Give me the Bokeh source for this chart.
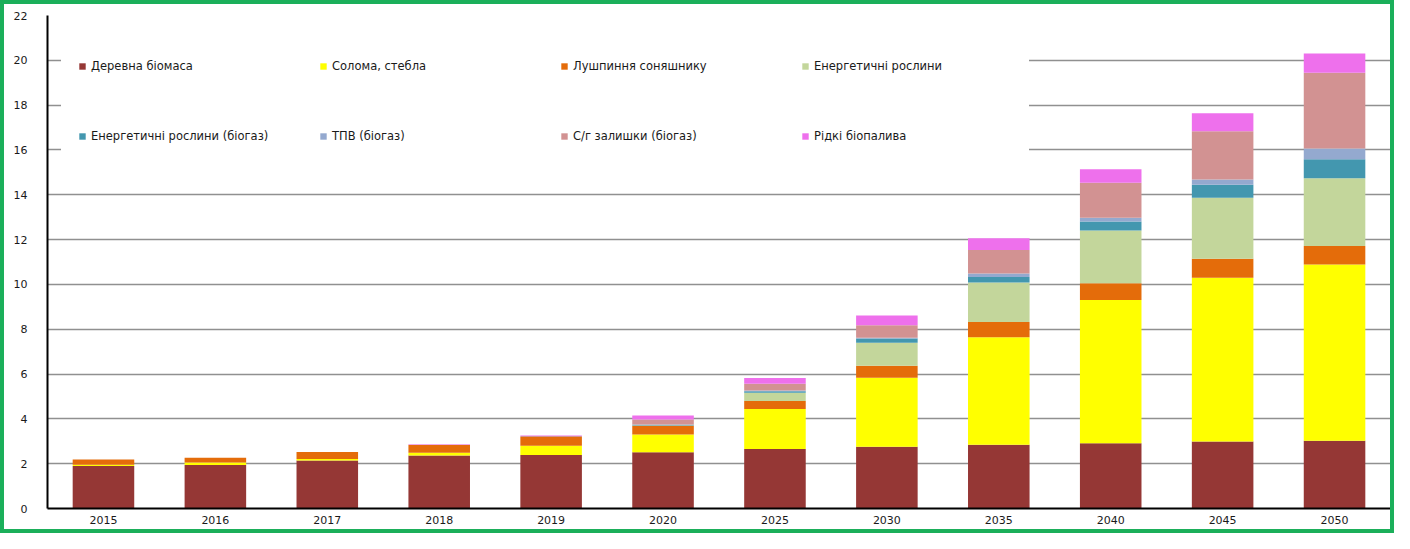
from bokeh.plotting import figure
from bokeh.models import Range1d, FactorRange, Legend, LegendItem
from bokeh.embed import file_html
from bokeh.resources import INLINE

years = ["2015", "2016", "2017", "2018", "2019", "2020", "2025", "2030", "2035", "2040", "2045", "2050"]

wood = [1.90, 1.94, 2.14, 2.36, 2.39, 2.51, 2.65, 2.76, 2.85, 2.91, 2.99, 3.02]
straw = [0.05, 0.11, 0.07, 0.13, 0.41, 0.79, 1.79, 3.08, 4.79, 6.39, 7.31, 7.87]
husk = [0.24, 0.21, 0.31, 0.34, 0.39, 0.39, 0.36, 0.53, 0.68, 0.75, 0.85, 0.82]
energy = [0.0, 0.0, 0.0, 0.0, 0.0, 0.01, 0.37, 1.03, 1.77, 2.36, 2.72, 3.03]
energy_bio = [0.0, 0.0, 0.0, 0.0, 0.0, 0.04, 0.06, 0.19, 0.24, 0.40, 0.58, 0.84]
msw_bio = [0.0, 0.0, 0.0, 0.0, 0.0, 0.01, 0.04, 0.03, 0.16, 0.17, 0.23, 0.49]
agri_bio = [0.0, 0.0, 0.0, 0.02, 0.05, 0.22, 0.30, 0.56, 1.05, 1.56, 2.15, 3.37]
liquid = [0.0, 0.0, 0.0, 0.02, 0.02, 0.18, 0.25, 0.43, 0.52, 0.60, 0.81, 0.86]

series_names = ["Деревна біомаса", "Солома, стебла", "Лушпиння соняшнику", "Енергетичні рослини",
                "Енергетичні рослини (біогаз)", "ТПВ (біогаз)", "С/г залишки (біогаз)", "Рідкі біопалива"]
colors = ["#953735", "#FFFF00", "#E46C0A", "#C3D69B", "#4397AF", "#94A9CF", "#D29292", "#EE70EC"]
keys = ["wood", "straw", "husk", "energy", "energy_bio", "msw_bio", "agri_bio", "liquid"]
y_ticks = list(range(0, 23, 2))

data = dict(years=years, wood=wood, straw=straw, husk=husk, energy=energy,
            energy_bio=energy_bio, msw_bio=msw_bio, agri_bio=agri_bio, liquid=liquid)

# element is 1394x533 incl. a 4px border (border-box); canvas is clipped to 1386x525,
# so right/bottom borders include the 8px hidden strip
p = figure(x_range=FactorRange(*years), y_range=Range1d(0, 22),
           width=1394, height=533, output_backend="svg", toolbar_location=None,
           min_border_left=43, min_border_top=11, min_border_right=8, min_border_bottom=29)
p.styles = {"border": "4px solid #1BAF5A"}

renderers = p.vbar_stack(keys, x="years", width=0.55, source=data, color=colors, line_color=None)

items = [LegendItem(label=n, renderers=[r]) for n, r in zip(series_names, renderers)]
legend = Legend(items=items, location="top_left", orientation="horizontal", ncols=4,
                glyph_width=8, glyph_height=8, label_height=40, label_width=198,
                label_standoff=5, spacing=30, padding=16, margin=14,
                label_text_font="DejaVu Sans", label_text_font_size="11.5px", label_text_color="#1a1a1a",
                background_fill_color="white", background_fill_alpha=1.0,
                border_line_color="white", border_line_width=1)
p.add_layout(legend, "center")

p.outline_line_color = None
p.background_fill_color = "white"
p.border_fill_color = "white"

p.xgrid.grid_line_color = None
p.ygrid.grid_line_color = "#909090"
p.ygrid.grid_line_width = 1.6
p.yaxis.ticker = y_ticks

for ax in (p.xaxis[0], p.yaxis[0]):
    ax.axis_line_color = "black"
    ax.axis_line_width = 2
    ax.major_tick_line_color = None
    ax.minor_tick_line_color = None
    ax.major_label_text_font = "DejaVu Sans"
    ax.major_label_text_font_size = "11px"
    ax.major_label_text_color = "#1a1a1a"
p.yaxis.major_label_standoff = 14
p.xaxis.major_label_standoff = 1
p.x_range.range_padding = 0
p.x_range.group_padding = 0

open("out.html", "w").write(file_html(p, INLINE))
